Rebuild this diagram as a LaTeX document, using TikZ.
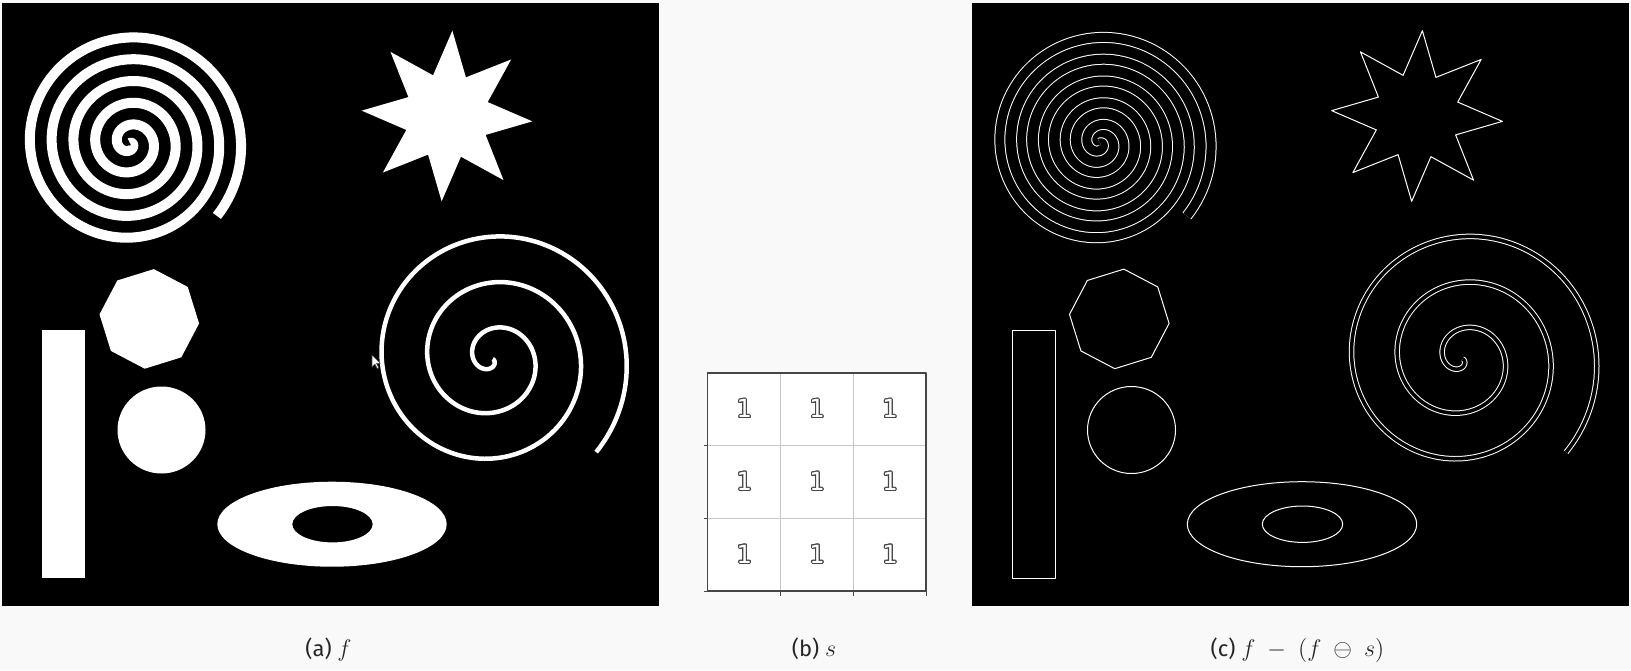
\documentclass[tikz,border=0pt]{standalone}
\usepackage{fontspec}
\newfontfamily\capfont{Fira Sans}
\newfontfamily\cellfont{DejaVu Sans Mono}
\usepackage{contour}
\contourlength{0.55pt}
\usetikzlibrary{positioning}
\definecolor{pageBg}{RGB}{249,249,249}
\definecolor{gridGray}{RGB}{200,200,200}
\definecolor{frameGray}{RGB}{70,70,70}
\newcommand{\capmath}[1]{{\fontsize{12.5}{14}\selectfont\medmuskip=9mu $#1$}}

% the shapes of f, drawn with whatever blob/ring/band styles are in force
\newcommand{\testshapes}{%
  \draw[wideband] plot[domain=0:1871, samples=600] ({130+0.060633*\x*cos(31-\x)}, {143-0.060633*\x*sin(31-\x)});
  \draw[thinband] plot[domain=0:1094, samples=450] ({492.7+0.127234*\x*cos(332-\x)}, {359-0.127234*\x*sin(332-\x)});
  \path[blob] plot[samples at={0,...,15}] ({447+ifthenelse(isodd(\x),43,85.5)*cos(3.6+22.5*\x)}, {116+ifthenelse(isodd(\x),43,85.5)*sin(3.6+22.5*\x)}) -- cycle;
  \path[blob] plot[samples at={0,...,7}] ({149.3+50*cos(5.2+45*\x)}, {318.9+50*sin(5.2+45*\x)}) -- cycle;
  \path[blob] (161.5,430) circle[x radius=44, y radius=43.5];
  \path[blob] (42.3,330.3) rectangle (85,578.3);
  \path[ring] (332,524.2) ellipse[x radius=114.7, y radius=42.5] (332.5,524.2) ellipse[x radius=40.2, y radius=18.2];
}

\begin{document}
\begin{tikzpicture}[x=0.5pt, y=-0.5pt, line join=round,
    caption/.style={font=\capfont\fontsize{11}{13}\selectfont, text=black!85, inner sep=0pt, anchor=base},
    cellone/.style={font=\cellfont\fontsize{12.5}{14}\selectfont, text=white, inner sep=0pt}]
  \fill[pageBg] (0,0) rectangle (1631,670);
  \useasboundingbox (0,0) rectangle (1631,670);

  % (a) f
  \begin{scope}[blob/.style={fill=white}, ring/.style={fill=white, even odd rule},
      wideband/.style={draw=white, line width=5pt},
      thinband/.style={draw=white, line width=2.25pt}]
    \fill[black] (2,3) rectangle (659,605.7);
    \testshapes
    \filldraw[fill=white, draw=black!70, line width=0.3pt, shift={(372,355)}]
      (0,0) -- (0,12) -- (3,9) -- (5.2,13.5) -- (6.8,12.8) -- (4.5,8.3) -- (8.3,8.3) -- cycle;
  \end{scope}

  % (b) s
  \fill[white] (707.5,373) rectangle (926,591);
  \foreach \k in {1,2} {
    \draw[gridGray, line width=0.5pt] ({707.5+72.83*\k},373) -- ++(0,218);
    \draw[gridGray, line width=0.5pt] (707.5,{373+72.67*\k}) -- ++(218.5,0);
  }
  \draw[frameGray, line width=0.6pt] (707.5,373) rectangle (926,591);
  \foreach \k in {1,2,3} {
    \draw[frameGray, line width=0.5pt] (707.5,{373+72.67*\k}) -- ++(-4,0);
    \draw[frameGray, line width=0.5pt] ({707.5+72.83*\k},591) -- ++(0,5);
  }
  \foreach \r in {0,1,2}
    \foreach \c in {0,1,2}
      \node[cellone] (one\r\c) at ({743.9+72.83*\c},{409.3+72.67*\r}) {\contour{frameGray}{1}};

  % (c) f - (f erosion s)
  \begin{scope}[shift={(970,0)}, blob/.style={draw=white, line width=0.5pt},
      ring/.style={draw=white, line width=0.5pt},
      wideband/.style={draw=white, line width=0.5pt, double=black, double distance=4.5pt},
      thinband/.style={draw=white, line width=0.5pt, double=black, double distance=1.75pt}]
    \fill[black] (2,3) rectangle (659,605.7);
    \testshapes
  \end{scope}

  \node[caption] (capa) at (328.5,656) {(a) \capmath{f}};
  \node[caption] (capb) at (814,656) {(b) \capmath{s}};
  \node[caption] (capc) at (1297.5,656) {(c) \capmath{f-(f\ominus s)}};
\end{tikzpicture}
\end{document}
